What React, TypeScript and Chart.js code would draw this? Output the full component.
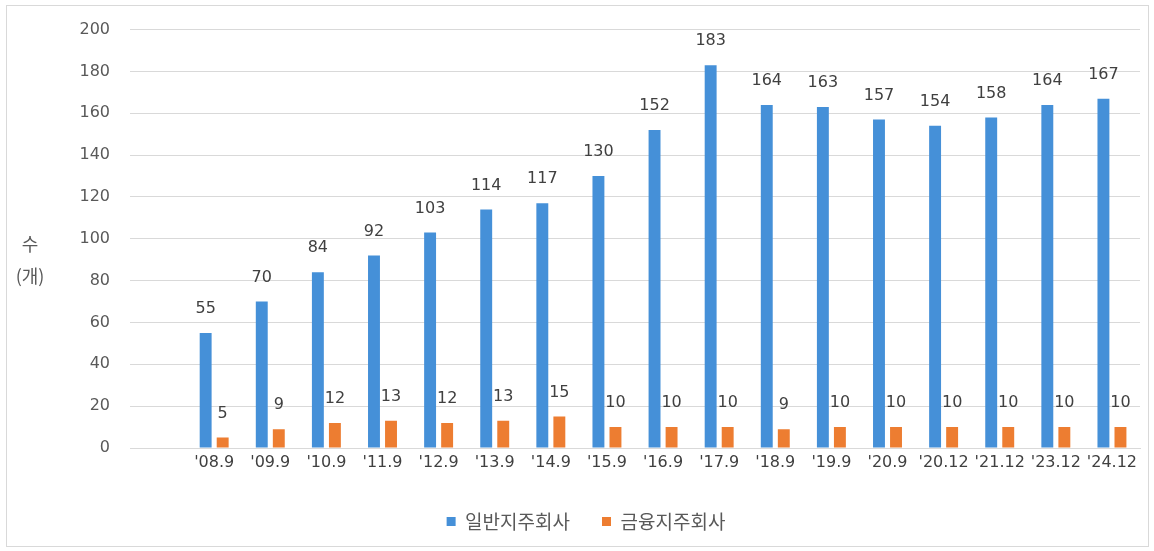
import React, { useEffect, useRef } from "react";
import { Chart, registerables } from "chart.js";

Chart.register(...registerables);

const categories = ["", "'08.9", "'09.9", "'10.9", "'11.9", "'12.9", "'13.9", "'14.9", "'15.9", "'16.9", "'17.9", "'18.9", "'19.9", "'20.9", "'20.12", "'21.12", "'23.12", "'24.12"];
const generalHolding = [null, 55, 70, 84, 92, 103, 114, 117, 130, 152, 183, 164, 163, 157, 154, 158, 164, 167];
const financialHolding = [null, 5, 9, 12, 13, 12, 13, 15, 10, 10, 10, 9, 10, 10, 10, 10, 10, 10];
const seriesNames = ["일반지주회사", "금융지주회사"];
const yTicks = [0, 20, 40, 60, 80, 100, 120, 140, 160, 180, 200];

const NUM_FONT = "'DejaVu Sans', 'Noto Sans CJK KR', sans-serif";
const KR_FONT = "'Malgun Gothic', 'Noto Sans CJK KR', 'Noto Sans', sans-serif";

const framePlugin = {
  id: "frame",
  beforeDraw(chart: any) {
    const ctx = chart.ctx;
    ctx.save();
    ctx.fillStyle = "#ffffff";
    ctx.fillRect(0, 0, chart.width, chart.height);
    ctx.strokeStyle = "#d9d9d9";
    ctx.lineWidth = 1;
    ctx.strokeRect(6.5, 5.5, 1142, 541);
    ctx.restore();
  },
};

const labelPlugin = {
  id: "valueLabels",
  afterDatasetsDraw(chart: any) {
    const ctx = chart.ctx;
    ctx.save();
    ctx.font = `16px ${NUM_FONT}`;
    ctx.fillStyle = "#404040";
    ctx.textAlign = "center";
    ctx.textBaseline = "middle";
    chart.data.datasets.forEach((ds: any, di: number) => {
      const meta = chart.getDatasetMeta(di);
      meta.data.forEach((bar: any, i: number) => {
        const v = ds.data[i];
        if (v === null || v === undefined) return;
        ctx.fillText(String(v), bar.x, bar.y - 24);
      });
    });
    // y axis title
    ctx.font = `18px ${KR_FONT}`;
    ctx.fillStyle = "#595959";
    ctx.fillText("수", 30, 244);
    ctx.fillText("(개)", 30, 276);
    ctx.restore();
  },
};

export default function App() {
  const ref = useRef<HTMLCanvasElement>(null);
  useEffect(() => {
    if (!ref.current) return;
    const chart = new Chart(ref.current, {
      type: "bar",
      data: {
        labels: categories,
        datasets: [
          {
            label: seriesNames[0],
            data: generalHolding as any,
            backgroundColor: "#4590D8",
            barPercentage: 0.7,
            categoryPercentage: 0.607,
          },
          {
            label: seriesNames[1],
            data: financialHolding as any,
            backgroundColor: "#ED7D31",
            barPercentage: 0.7,
            categoryPercentage: 0.607,
          },
        ],
      },
      options: {
        animation: false,
        responsive: false,
        maintainAspectRatio: false,
        devicePixelRatio: 1,
        layout: { padding: { left: 32, right: 14, top: 29, bottom: 10 } },
        plugins: {
          tooltip: { enabled: false },
          legend: {
            position: "bottom",
            labels: {
              font: { family: KR_FONT, size: 19 },
              color: "#595959",
              boxWidth: 9,
              boxHeight: 9,
              padding: 32,
            },
          },
        },
        scales: {
          x: {
            grid: { display: false, drawTicks: false },
            border: { display: true, color: "#d9d9d9" },
            ticks: {
              font: { family: NUM_FONT, size: 16 },
              color: "#404040",
              padding: 5,
              maxRotation: 0,
              autoSkip: false,
            },
            afterFit(scale: any) {
              scale.height = 32;
            },
          },
          y: {
            min: 0,
            max: 200,
            afterBuildTicks(scale: any) {
              scale.ticks = yTicks.map((v) => ({ value: v }));
            },
            grid: { color: "#d9d9d9", drawTicks: false },
            border: { display: false },
            ticks: {
              font: { family: NUM_FONT, size: 16 },
              color: "#595959",
              padding: 20,
            },
            afterFit(scale: any) {
              scale.width = 98;
            },
          },
        },
      },
      plugins: [framePlugin, labelPlugin],
    });
    return () => chart.destroy();
  }, []);
  return (
    <div style={{ position: "absolute", left: 0, top: 0, width: 1154, height: 551 }}>
      <canvas ref={ref} width={1154} height={551} style={{ width: 1154, height: 551 }} />
    </div>
  );
}
